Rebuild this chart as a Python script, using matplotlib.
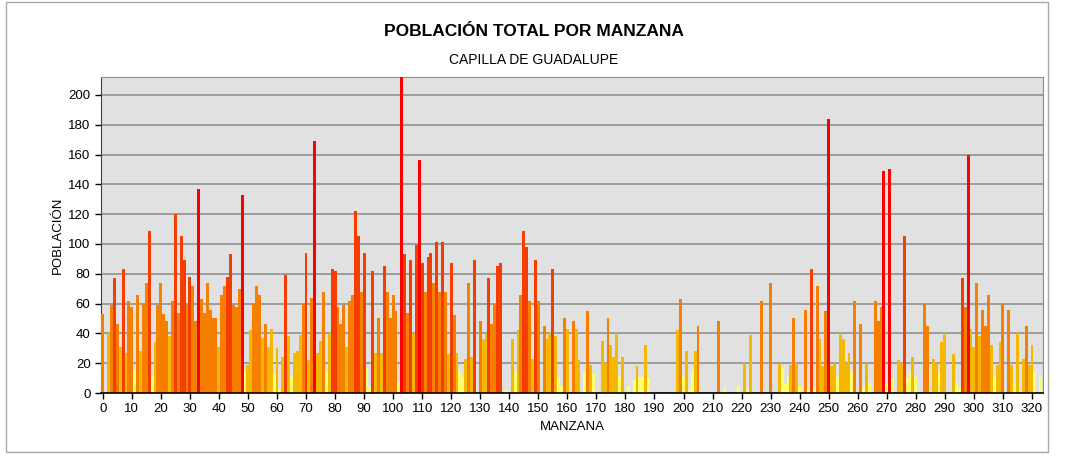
import numpy as np
import matplotlib
matplotlib.use("Agg")
import matplotlib.pyplot as plt
from matplotlib.patches import Rectangle

# población por manzana (índice = número de manzana)
poblacion = [
    53, 0, 40, 59, 77, 46, 31, 83, 27, 62,
    58, 15, 66, 28, 60, 74, 109, 11, 34, 59,
    74, 53, 48, 38, 62, 120, 54, 105, 89, 59,
    78, 72, 48, 137, 63, 54, 74, 56, 50, 50,
    31, 66, 72, 78, 93, 59, 58, 70, 133, 15,
    19, 42, 60, 72, 66, 37, 46, 31, 43, 13,
    30, 2, 24, 79, 38, 11, 27, 28, 39, 60,
    94, 22, 64, 169, 27, 35, 68, 14, 40, 83,
    82, 58, 46, 59, 31, 62, 66, 122, 105, 68,
    94, 17, 4, 82, 27, 50, 27, 85, 68, 50,
    66, 55, 7, 214, 93, 54, 89, 40, 99, 156,
    87, 68, 91, 94, 74, 101, 68, 101, 68, 26,
    87, 52, 27, 15, 11, 23, 74, 24, 89, 0,
    48, 36, 40, 77, 46, 60, 85, 87, 0, 2,
    0, 36, 15, 42, 66, 109, 98, 62, 23, 89,
    62, 0, 45, 36, 40, 83, 38, 11, 5, 50,
    43, 0, 48, 43, 22, 0, 14, 55, 19, 13,
    0, 0, 35, 20, 50, 32, 24, 40, 11, 24,
    0, 5, 0, 9, 18, 11, 11, 32, 10, 0,
    0, 0, 0, 0, 0, 0, 0, 0, 42, 63,
    11, 28, 3, 15, 28, 45, 0, 0, 0, 0,
    0, 0, 48, 0, 4, 0, 0, 0, 0, 5,
    0, 20, 3, 39, 0, 0, 0, 62, 0, 0,
    74, 0, 0, 20, 17, 6, 11, 19, 50, 20,
    5, 0, 56, 2, 83, 4, 72, 36, 18, 55,
    184, 18, 20, 11, 40, 36, 20, 27, 15, 62,
    0, 46, 4, 20, 7, 0, 62, 48, 58, 149,
    6, 150, 10, 0, 22, 20, 105, 10, 14, 24,
    11, 0, 0, 60, 45, 0, 23, 20, 13, 34,
    40, 0, 0, 26, 7, 4, 77, 58, 160, 43,
    31, 74, 38, 56, 45, 66, 32, 11, 19, 34,
    60, 0, 56, 19, 6, 40, 0, 23, 45, 19,
    32, 15, 0, 11,
]
manzana = np.arange(len(poblacion))

# clases de color (rangos de población)
limites = [17.5, 43.5, 75.5, 130.5]
colores_clase = ["#FFFF6E", "#F5B800", "#F77F00", "#F53D00", "#FF0000"]

y_ticks = list(range(0, 201, 20))
x_ticks = list(range(0, 321, 10))

vals = np.array(poblacion, dtype=float)
clase = np.digitize(vals, limites)
colores = [colores_clase[c] for c in clase]

fig = plt.figure(figsize=(10.68, 4.58), dpi=100)
fig.patch.set_facecolor("white")
fig.patches.append(Rectangle((6 / 1068, 1 - 452 / 458), 1042 / 1068, 450 / 458,
                             transform=fig.transFigure, fill=False,
                             edgecolor="#a8a8a8", linewidth=1.0))

ax = fig.add_axes([101 / 1068, 1 - 393 / 458, 942 / 1068, 316 / 458])
ax.set_facecolor("#E1E1E1")
ax.bar(manzana, vals, width=1.0, color=colores, linewidth=0, zorder=3)

ax.set_xlim(-0.6, 323.8)
ax.set_ylim(0, 212)
ax.set_yticks(y_ticks)
ax.set_xticks(x_ticks)
ax.yaxis.grid(True, color="#9c9c9c", linewidth=1.4, zorder=1)
ax.set_axisbelow(True)

for lado in ["top", "right"]:
    ax.spines[lado].set_color("#8c8c8c")
ax.spines["left"].set_color("#404040")
ax.spines["bottom"].set_color("black")
ax.spines["bottom"].set_linewidth(1.2)
ax.spines["bottom"].set_zorder(4)

fuente = "Liberation Sans"
ax.tick_params(axis="both", labelsize=9.5, length=4, width=1, color="black")
for lab in ax.get_xticklabels() + ax.get_yticklabels():
    lab.set_family(fuente)

ax.set_xlabel("MANZANA", fontsize=9.5, family=fuente, labelpad=4)
ax.set_ylabel("POBLACIÓN", fontsize=9.5, family=fuente, labelpad=3)

fig.text(0.5, 1 - 32 / 458, "POBLACIÓN TOTAL POR MANZANA", ha="center", va="center",
         fontsize=12.5, fontweight="bold", family=fuente)
fig.text(0.5, 1 - 60 / 458, "CAPILLA DE GUADALUPE", ha="center", va="center",
         fontsize=10, family=fuente)

fig.savefig("out.png", dpi=100, facecolor="white")
